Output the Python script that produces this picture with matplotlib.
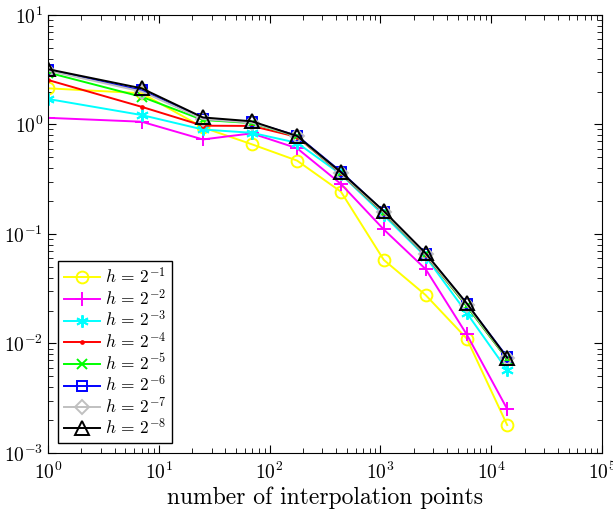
import numpy as np
import matplotlib
matplotlib.use("Agg")
import matplotlib.pyplot as plt

plt.rcParams['font.family'] = 'serif'
plt.rcParams['font.serif'] = ['cmr10']
plt.rcParams['mathtext.fontset'] = 'cm'
plt.rcParams['axes.formatter.use_mathtext'] = True
plt.rcParams['axes.unicode_minus'] = False

# number of interpolation points
npts = [1, 7, 25, 69, 177, 441, 1073, 2561, 6017, 13953]

err_h1 = [2.14, 1.93, 0.94, 0.66, 0.468, 0.243, 0.058, 0.0277, 0.0111, 0.0018]
err_h2 = [1.15, 1.06, 0.73, 0.83, 0.607, 0.286, 0.110, 0.0478, 0.0121, 0.00252]
err_h3 = [1.71, 1.22, 0.90, 0.84, 0.68, 0.35, 0.148, 0.062, 0.019, 0.0057]
err_h4 = [2.55, 1.45, 0.975, 0.97, 0.77, 0.355, 0.155, 0.064, 0.022, 0.0072]
err_h5 = [2.98, 1.79, 1.10, 1.03, 0.78, 0.36, 0.157, 0.065, 0.022, 0.0072]
err_h6 = [3.15, 2.05, 1.13, 1.05, 0.79, 0.37, 0.160, 0.066, 0.023, 0.0075]
err_h7 = [3.10, 2.00, 1.12, 1.04, 0.78, 0.36, 0.158, 0.065, 0.0225, 0.0073]
err_h8 = [3.20, 2.14, 1.16, 1.07, 0.785, 0.366, 0.162, 0.0667, 0.0233, 0.0074]

labels = [r'$h\,=\,2^{-%d}$' % k for k in range(1, 9)]
series = [err_h1, err_h2, err_h3, err_h4, err_h5, err_h6, err_h7, err_h8]
colors = ['#ffff00', '#ff00ff', '#00ffff', '#ff0000', '#00ff00', '#0000ff', '#c0c0c0', '#000000']
markers = ['o', '+', (6, 2, 0), '.', 'x', 's', 'D', '^']
msizes = [8.5, 10, 9, 4, 7, 7, 7, 9.5]

fig = plt.figure(figsize=(6.13, 5.15), dpi=100)
ax = fig.add_axes([0.0783, 0.1204, 0.9037, 0.8505])

for y, lab, c, m, ms in zip(series, labels, colors, markers, msizes):
    ax.plot(npts, y, color=c, marker=m, markersize=ms, linewidth=1.4,
            markerfacecolor='none', markeredgecolor=c, markeredgewidth=1.4,
            label=lab)

ax.set_xscale('log')
ax.set_yscale('log')
ax.set_xlim(1, 1e5)
ax.set_ylim(1e-3, 1e1)
ax.tick_params(which='both', direction='in', top=True, right=True, labelsize=14)
ax.tick_params(which='major', length=6)
ax.tick_params(which='minor', length=3.5)
ax.tick_params(axis='x', pad=6)
ax.set_xlabel('number of interpolation points', fontsize=17, labelpad=3)

leg = ax.legend(loc='lower left', fontsize=12.5, fancybox=False, edgecolor='black',
                framealpha=1, handlelength=2.1, borderaxespad=0.6,
                labelspacing=0.08, handletextpad=0.3, borderpad=0.3)
leg.get_frame().set_linewidth(1.0)

fig.savefig('out.png', dpi=100)
